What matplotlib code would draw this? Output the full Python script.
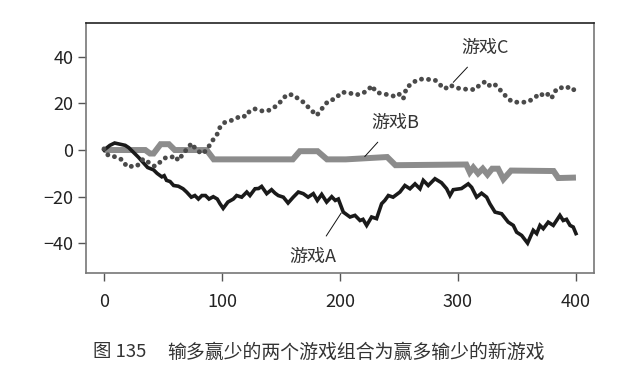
import matplotlib
matplotlib.use("Agg")
import matplotlib.pyplot as plt

plt.rcParams['font.family'] = ['Noto Sans CJK SC', 'DejaVu Sans']
plt.rcParams['font.weight'] = 'light'
plt.rcParams['axes.unicode_minus'] = True

# Game A (black solid)
a_x = [0, 5, 9, 18, 21, 29, 37, 42, 45, 49, 51, 53, 56, 59, 63, 67, 70, 74, 77, 80, 83, 86, 89,
       92.6, 96, 98.3, 101, 105, 109.6, 112.4, 116.7, 121, 123.7, 128, 131, 133.6, 137.9, 142, 145,
       147.7, 152, 156, 160.4, 164.7, 168.9, 173, 177.4, 180.8, 184.5, 188.7, 193, 196, 198.6,
       202.8, 208.5, 212.7, 217, 219.5, 222.6, 226.8, 231, 235.3, 238, 241, 245, 250.8, 255,
       259.3, 263.6, 267.8, 270.6, 274.8, 280.5, 286, 290.4, 293.2, 296, 303, 308.7, 311.6,
       315.8, 320, 324.3, 327, 331.4, 337, 342.6, 346.9, 349.7, 354, 359, 363.8, 366.7, 369.5,
       372.3, 376.5, 380.8, 386.4, 389.2, 392, 395, 397.7, 400]
a_y = [0, 2, 3, 2, 1, -3, -7.5, -8.5, -10, -11.5, -11, -13, -13.5, -15.2, -15.5, -16.6, -18, -20.2,
       -19.5, -21, -19.5, -19.5, -21, -20, -21, -23, -25, -22.3, -21, -19.5, -20.2, -18, -19.5,
       -16.6, -16.5, -15.6, -18.7, -17, -18.5, -19.5, -20.2, -22.7, -20.2, -18, -18.7, -20.2,
       -18.7, -21.6, -19, -22.3, -20, -21.6, -21, -26.6, -28.7, -28, -30.2, -29.7, -32.3, -28.7,
       -29.4, -23, -21.6, -19.5, -20.2, -18, -15.2, -16.6, -14.5, -16.6, -13, -15.2, -12.3, -14,
       -16.6, -19.5, -17, -16.5, -14.5, -16, -20.2, -18.5, -20.2, -23, -26.6, -27.3, -30.9,
       -32.3, -35.2, -36.6, -39.9, -34.4, -35.8, -32.3, -33.7, -30.9, -32.3, -28, -30.2, -29.7,
       -32.3, -33, -35.8]

# Game B (gray thick)
b_x = [0, 35, 39, 42, 48, 55, 60, 87, 93, 160, 166, 181, 189, 205, 240, 247, 307, 310, 313, 317,
       321, 325, 329, 334, 338.5, 345, 381, 385, 400]
b_y = [0, 0, -1.5, -1.5, 2.5, 2.5, 0, 0, -4, -4, -0.5, -0.5, -4, -4, -3, -6.5, -6.2, -9.5, -7.5,
       -10, -8, -10.5, -8, -8, -12.5, -8.8, -9, -12, -11.8]

# Game C (dotted, combination)
c_x = [0, 3.7, 10.7, 16.4, 19, 23, 27.7, 33.3, 37.5, 43, 47.5, 51.7, 56, 60, 63, 67, 74.3, 78.5,
       84, 88.4, 92.6, 96.9, 98.3, 102.5, 107, 111, 116.7, 120, 123.7, 128, 132, 136.4, 141,
       146.3, 150.6, 154.8, 160.4, 164.7, 169, 174.6, 180.3, 184.5, 190, 195.8, 201.4, 207,
       212.7, 218, 224, 226.8, 231, 237, 242.4, 246.6, 250, 253.6, 256.5, 260.8, 265, 270.6,
       276, 280.5, 284.7, 289, 293.2, 297.5, 303, 308.7, 314.4, 318.6, 323.5, 327, 330.8, 334.2,
       338.4, 342.6, 346.9, 352.5, 358.2, 363.8, 369.5, 373.7, 376.5, 379.4, 382.2, 386.4, 390.7,
       394.9, 399]
c_y = [0.5, -2.4, -3, -4.5, -7, -7, -7, -3.8, -5.2, -7, -5.2, -3.4, -3.4, -2.4, -4.5, -1.6, 2.9,
       -0.2, -1.6, 1.2, 4.5, 7.5, 9.8, 11.9, 12.5, 13.3, 14.8, 14.3, 16.9, 17.6, 16.9, 16.6,
       17.2, 19, 21.2, 23.7, 23.7, 21.9, 20.5, 17.6, 14.8, 17.6, 21, 21.9, 24.7, 24.7, 23.6, 24,
       25.7, 27.6, 24.7, 24, 23.6, 22.9, 24, 21.9, 26.9, 28.3, 30, 30.5, 30.2, 30, 28, 26.2,
       27.9, 26.8, 26.2, 26, 25.9, 28, 29.4, 27.5, 28.3, 26.6, 24.3, 21.9, 20.5, 20.5, 20.5,
       21.9, 24.3, 22.9, 24, 22.3, 25.2, 26.9, 26.2, 27.2, 25.5]

x_ticks = [0, 100, 200, 300, 400]
y_ticks = [-40, -20, 0, 20, 40]
caption_num = "图 135"
caption_text = "输多赢少的两个游戏组合为赢多输少的新游戏"

fig = plt.figure(figsize=(6.22, 3.67), dpi=100)
ax = fig.add_axes([0.1378, 0.2561, 0.955 - 0.1378, 0.9365 - 0.2561])

ax.plot(b_x, b_y, color='#8c8c8c', lw=4.3, solid_joinstyle='miter', solid_capstyle='butt', zorder=2)
ax.plot(a_x, a_y, color='#1a1a1a', lw=2.6, solid_joinstyle='miter', zorder=3)
ax.plot(c_x, c_y, color='#4a4a4a', lw=3.5, linestyle=(0, (0.01, 1.45)),
        dash_capstyle='round', zorder=4)

ax.set_xlim(-15.5, 415.3)
ax.set_ylim(-52.7, 54.3)
ax.set_xticks(x_ticks)
ax.set_yticks(y_ticks)
ax.tick_params(axis='both', direction='out', length=5.5, width=1.0, color='#555555',
               labelsize=13, labelcolor='#222222')
ax.tick_params(axis='x', pad=9)
ax.tick_params(axis='y', pad=3.5)
for side in ['left', 'bottom', 'right']:
    ax.spines[side].set_color('#777777')
    ax.spines[side].set_linewidth(1.2)
ax.spines['top'].set_color('#222222')
ax.spines['top'].set_linewidth(1.2)

txtc = '#333333'
fs = 13
ax.annotate('游戏C', xy=(296, 29), xytext=(323, 43.6), ha='center', va='center',
            fontsize=fs, color=txtc,
            arrowprops=dict(arrowstyle='-', color='#111111', lw=0.7, shrinkA=7, shrinkB=0))
ax.annotate('游戏B', xy=(221, -2.8), xytext=(246.6, 11.5), ha='center', va='center',
            fontsize=fs, color=txtc,
            arrowprops=dict(arrowstyle='-', color='#111111', lw=0.7, shrinkA=7, shrinkB=0))
ax.annotate('游戏A', xy=(201, -27), xytext=(176.7, -45.9), ha='center', va='center',
            fontsize=fs, color=txtc,
            arrowprops=dict(arrowstyle='-', color='#111111', lw=0.7, shrinkA=8, shrinkB=0))

fig.text(93 / 622, 1 - 352 / 367, caption_num, ha='left', va='center', fontsize=13.3, color='#333333')
fig.text(167 / 622, 1 - 352 / 367, caption_text, ha='left', va='center', fontsize=13.6, color='#333333')

fig.savefig('out.png', dpi=100)
